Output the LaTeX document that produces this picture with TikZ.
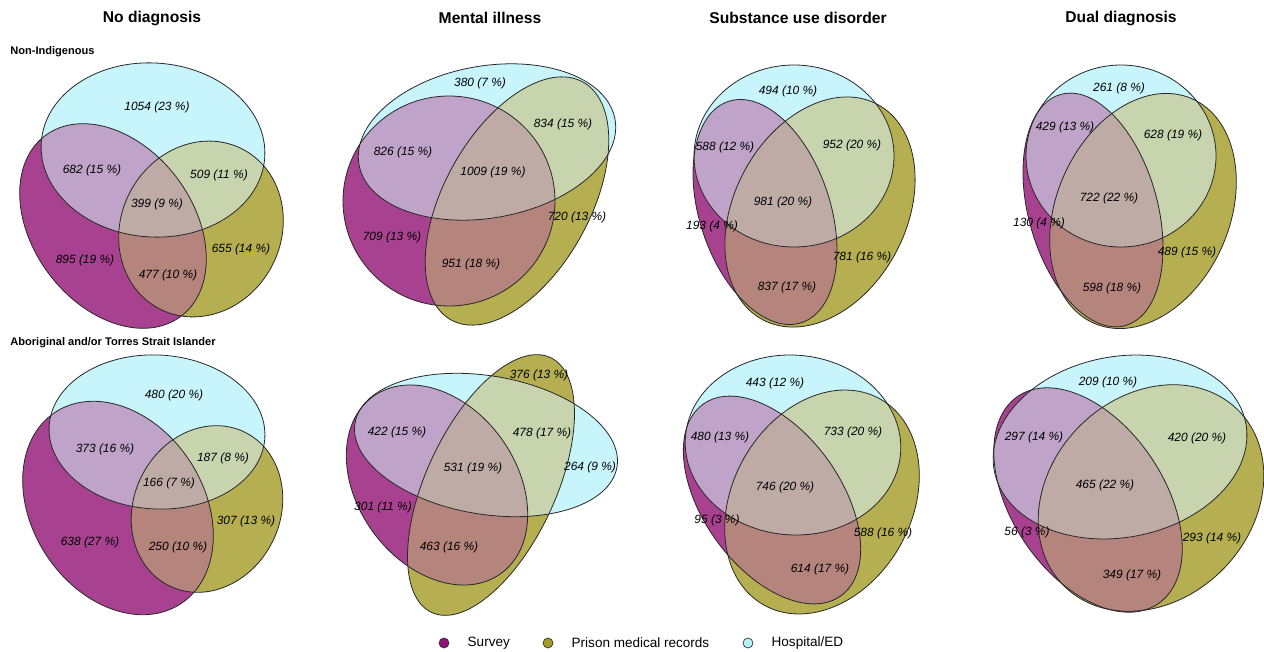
\documentclass[tikz,border=0pt]{standalone}
\usepackage{fontspec}
\setmainfont{Liberation Sans}
\usetikzlibrary{positioning}

\definecolor{survey}{HTML}{A8418F}
\definecolor{prison}{HTML}{B5AF52}
\definecolor{hospital}{HTML}{C7F5FB}
\definecolor{survhosp}{HTML}{C0A3C8}
\definecolor{prishosp}{HTML}{C8D4AE}
\definecolor{survpris}{HTML}{B4847D}
\definecolor{allthree}{HTML}{BEABA6}
\definecolor{surveydot}{HTML}{920E77}
\definecolor{prisondot}{HTML}{A29C28}
\definecolor{hospitaldot}{HTML}{B8F1FA}

% an ellipse is kept as cx/cy/rx/ry/angle (pixels, angle counter-clockwise)
\newcommand\vellipse[2]{\expandafter\vellipsex#2\relax{#1}}
\def\vellipsex#1/#2/#3/#4/#5\relax#6{\path[#6,rotate around={#5:(#1,#2)}] (#1,#2) ellipse ({#3} and {#4});}

% fills every region of the three sets \eS, \eP, \eH, then the rims
\newcommand\vennfill{%
  \vellipse{fill=survey}{\eS}
  \vellipse{fill=prison}{\eP}
  \vellipse{fill=hospital}{\eH}
  \begin{scope}\vellipse{clip}{\eS}\vellipse{fill=survhosp}{\eH}\end{scope}
  \begin{scope}\vellipse{clip}{\eS}\vellipse{fill=survpris}{\eP}\end{scope}
  \begin{scope}\vellipse{clip}{\eP}\vellipse{fill=prishosp}{\eH}\end{scope}
  \begin{scope}\vellipse{clip}{\eS}\vellipse{clip}{\eP}\vellipse{fill=allthree}{\eH}\end{scope}
  \vellipse{rim}{\eS}
  \vellipse{rim}{\eP}
  \vellipse{rim}{\eH}}

\begin{document}
\begin{tikzpicture}[x=0.02cm,y=-0.02cm,
    rim/.style={draw=black!85,line width=.45pt},
    lab/.style={font=\fontsize{6.8}{8}\selectfont\itshape,inner sep=0pt},
    coltitle/.style={font=\fontsize{8.9}{10}\selectfont\bfseries,inner sep=0pt},
    group/.style={font=\fontsize{6.3}{7}\selectfont\bfseries,inner sep=0pt,anchor=west},
    dot/.style={circle,draw=black!80,line width=.4pt,minimum size=10*0.02cm,inner sep=0pt},
    leg/.style={font=\fontsize{7.7}{9}\selectfont,inner sep=0pt,right=0.36cm of #1}]
  \useasboundingbox (0,0) rectangle (1264,652);

  \node[coltitle] (tnone) at (152,18) {No diagnosis};
  \node[coltitle] (tmental) at (490,18) {Mental illness};
  \node[coltitle] (tsubst) at (798,18) {Substance use disorder};
  \node[coltitle] (tdual) at (1121,18) {Dual diagnosis};
  \node[group] (gnon) at (10,52) {Non-Indigenous};
  \node[group] (gabo) at (10,343) {Aboriginal and/or Torres Strait Islander};

  % No diagnosis, non-Indigenous
  \def\eS{113/226/113/80/-53}\def\eP{201/229/90/80/62}\def\eH{153/150/112/87/-4}
  \vennfill
  \node[lab] (n1h) at (157,107) {1054 (23 \%)};
  \node[lab] (n1sh) at (92,170) {682 (15 \%)};
  \node[lab] (n1ph) at (219,175) {509 (11 \%)};
  \node[lab] (n1sph) at (157,204) {399 (9 \%)};
  \node[lab] (n1s) at (85,260) {895 (19 \%)};
  \node[lab] (n1sp) at (168,275) {477 (10 \%)};
  \node[lab] (n1p) at (241,249) {655 (14 \%)};

  % Mental illness, non-Indigenous
  \def\eS{449/201/106/105/0}\def\eP{517/201/136/73/61}\def\eH{487/142/130/76/10}
  \vennfill
  \node[lab] (n2h) at (480,83) {380 (7 \%)};
  \node[lab] (n2ph) at (563,124) {834 (15 \%)};
  \node[lab] (n2sh) at (403,152) {826 (15 \%)};
  \node[lab] (n2sph) at (493,172) {1009 (19 \%)};
  \node[lab] (n2p) at (577,217) {720 (13 \%)};
  \node[lab] (n2s) at (392,237) {709 (13 \%)};
  \node[lab] (n2sp) at (471,264) {951 (18 \%)};

  % Substance use disorder, non-Indigenous
  \def\eS{765/212/116.5/65.3/-71.7}\def\eP{820/212/122/86/62}\def\eH{794/156/100/91/0}
  \vennfill
  \node[lab] (n3h) at (788,91) {494 (10 \%)};
  \node[lab] (n3sh) at (725,147) {588 (12 \%)};
  \node[lab] (n3ph) at (852,145) {952 (20 \%)};
  \node[lab] (n3sph) at (783,202) {981 (20 \%)};
  \node[lab] (n3s) at (712,226) {193 (4 \%)};
  \node[lab] (n3p) at (862,257) {781 (16 \%)};
  \node[lab] (n3sp) at (787,287) {837 (17 \%)};

  % Dual diagnosis, non-Indigenous
  \def\eS{1093/210/120/64.5/-74.4}\def\eP{1143/211/122.5/86.7/66.5}\def\eH{1121/156/95/91/0}
  \vennfill
  \node[lab] (n4h) at (1119,88) {261 (8 \%)};
  \node[lab] (n4sh) at (1065,127) {429 (13 \%)};
  \node[lab] (n4ph) at (1173,135) {628 (19 \%)};
  \node[lab] (n4sph) at (1109,198) {722 (22 \%)};
  \node[lab] (n4s) at (1039,223) {130 (4 \%)};
  \node[lab] (n4p) at (1187,252) {489 (15 \%)};
  \node[lab] (n4sp) at (1112,288) {598 (18 \%)};

  % No diagnosis, Aboriginal and/or Torres Strait Islander
  \def\eS{118/508/114.5/85.8/-56.8}\def\eP{207/509/85.6/73.2/63.8}\def\eH{157/432/108/77/-3}
  \vennfill
  \node[lab] (n5h) at (174,395) {480 (20 \%)};
  \node[lab] (n5sh) at (105,449) {373 (16 \%)};
  \node[lab] (n5ph) at (223,458) {187 (8 \%)};
  \node[lab] (n5sph) at (169,483) {166 (7 \%)};
  \node[lab] (n5p) at (246,521) {307 (13 \%)};
  \node[lab] (n5s) at (90,542) {638 (27 \%)};
  \node[lab] (n5sp) at (178,547) {250 (10 \%)};

  % Mental illness, Aboriginal and/or Torres Strait Islander
  \def\eS{437/485/109.2/79.4/-54.2}\def\eP{491/485/140.6/64.7/65}\def\eH{486/445/132.8/69.2/-9.5}
  \vennfill
  \node[lab] (n6p) at (539,375) {376 (13 \%)};
  \node[lab] (n6sh) at (397,432) {422 (15 \%)};
  \node[lab] (n6ph) at (542,433) {478 (17 \%)};
  \node[lab] (n6h) at (590,467) {264 (9 \%)};
  \node[lab] (n6sph) at (473,468) {531 (19 \%)};
  \node[lab] (n6s) at (383,507) {301 (11 \%)};
  \node[lab] (n6sp) at (449,547) {463 (16 \%)};

  % Substance use disorder, Aboriginal and/or Torres Strait Islander
  \def\eS{772/500/118/68.8/-54.3}\def\eP{822/502/118.3/89.5/60.4}\def\eH{793/445/107.9/89.9/-4.4}
  \vennfill
  \node[lab] (n7h) at (775,383) {443 (12 \%)};
  \node[lab] (n7sh) at (720,437) {480 (13 \%)};
  \node[lab] (n7ph) at (853,432) {733 (20 \%)};
  \node[lab] (n7sph) at (785,487) {746 (20 \%)};
  \node[lab] (n7s) at (717,520) {95 (3 \%)};
  \node[lab] (n7p) at (883,533) {588 (16 \%)};
  \node[lab] (n7sp) at (820,569) {614 (17 \%)};

  % Dual diagnosis, Aboriginal and/or Torres Strait Islander
  \def\eS{1088/500/125.2/76.1/-56}\def\eP{1151/498/123.7/101.3/45.6}\def\eH{1120/447/128/90.4/10.7}
  \vennfill
  \node[lab] (n8h) at (1108,382) {209 (10 \%)};
  \node[lab] (n8sh) at (1034,437) {297 (14 \%)};
  \node[lab] (n8ph) at (1197,438) {420 (20 \%)};
  \node[lab] (n8sph) at (1105,485) {465 (22 \%)};
  \node[lab] (n8s) at (1027,532) {56 (3 \%)};
  \node[lab] (n8p) at (1212,538) {293 (14 \%)};
  \node[lab] (n8sp) at (1132,575) {349 (17 \%)};

  % legend
  \node[dot,fill=surveydot] (ksurvey) at (444,643) {};
  \node[leg=ksurvey] (lsurvey) {Survey};
  \node[dot,fill=prisondot] (kprison) at (548,643) {};
  \node[leg=kprison] (lprison) {Prison medical records};
  \node[dot,fill=hospitaldot] (khosp) at (748,643) {};
  \node[leg=khosp] (lhosp) {Hospital/ED};
\end{tikzpicture}
\end{document}
